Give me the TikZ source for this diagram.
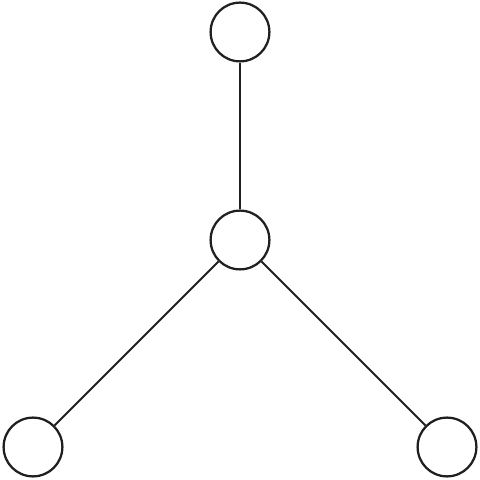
\documentclass[tikz,border=0pt]{standalone}
\usepackage{tikz}
\usetikzlibrary{calc}

\begin{document}
\begin{tikzpicture}[vertex/.style={circle,draw=black!88,line width=1.6pt,minimum size=1.47cm,inner sep=0pt},
  edge/.style={draw=black!88,line width=1.4pt}]
  % Configurable parameters
  \def\w{12}
  \def\m{0.825}
  %
  % Bounding box
  \useasboundingbox (0,0) rectangle (\w,\w);
  %
  % Vertices
  \node[vertex] (top) at (6,11.2) {};
  \node[vertex] (mid) at (6,6) {};
  \node[vertex] (left) at (\m,\m) {};
  \node[vertex] (right) at (\w-\m,\m) {};
  %
  % Edges
  \draw[edge] (mid) -- (top);
  \draw[edge] (mid) -- (left);
  \draw[edge] (mid) -- (right);
  %
\end{tikzpicture}
\end{document}
